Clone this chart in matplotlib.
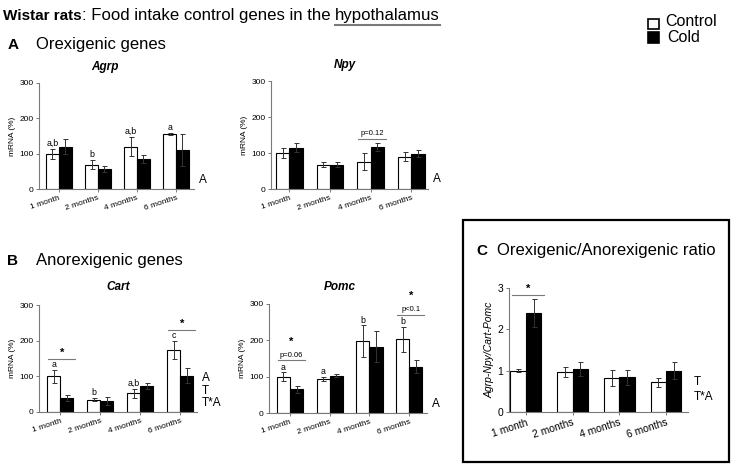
import matplotlib
matplotlib.use("Agg")
import matplotlib.pyplot as plt
from matplotlib.patches import Rectangle
from matplotlib.lines import Line2D
import numpy as np

plt.rcParams['font.family'] = ['Liberation Sans', 'DejaVu Sans']

# Data
ages = ["1 month", "2 months", "4 months", "6 months"]

agrp_ctrl = [100, 69, 120, 156]
agrp_ctrl_err = [14, 12, 27, 3]
agrp_cold = [120, 56, 85, 110]
agrp_cold_err = [21, 9, 11, 45]
agrp_letters = ["a,b", "b", "a,b", "a"]

npy_ctrl = [100, 68, 76, 90]
npy_ctrl_err = [15, 7, 23, 12]
npy_cold = [115, 68, 117, 98]
npy_cold_err = [13, 7, 11, 9]

cart_ctrl = [100, 35, 52, 173]
cart_ctrl_err = [18, 4, 13, 25]
cart_cold = [40, 32, 72, 102]
cart_cold_err = [9, 11, 8, 20]
cart_letters = ["a", "b", "a,b", "c"]

pomc_ctrl = [100, 94, 198, 203]
pomc_ctrl_err = [13, 6, 44, 34]
pomc_cold = [65, 103, 183, 127]
pomc_cold_err = [10, 5, 42, 18]
pomc_letters = ["a", "a", "b", "b"]

ratio_ctrl = [1.0, 0.97, 0.82, 0.72]
ratio_ctrl_err = [0.03, 0.13, 0.19, 0.11]
ratio_cold = [2.40, 1.04, 0.84, 1.0]
ratio_cold_err = [0.34, 0.16, 0.18, 0.21]

# (group index, bracket height, labels stacked above the bracket)
npy_brackets = [(2, 140, ["p=0.12"])]
cart_brackets = [(0, 148, ["*"]), (3, 230, ["*"])]
pomc_brackets = [(0, 145, ["p=0.06", "*"]), (3, 271, ["p<0.1", "*"])]
ratio_brackets = [(0, 2.82, ["*"])]

# anova effects printed right of each plot
agrp_effects = ["A"]
npy_effects = ["A"]
cart_effects = ["A", "T", "T*A"]
pomc_effects = ["A"]
ratio_effects = ["T", "T*A"]

W, H = 737, 466
GREY = "#7a7a7a"


def fx(px):
    return px / W


def fy(py):
    return 1 - py / H


def make_axes(left, right, top, bottom):
    return fig.add_axes([fx(left), fy(bottom), (right - left) / W, (bottom - top) / H])


def draw_panel(ax, ctrl, ctrl_err, cold, cold_err, xlim, ymax, yticks,
               letters=None, brackets=(), effects=(), eff_y=0.08,
               ticksize=6, ylabel="mRNA (%)", ylab_style="normal", letter_off=0.8):
    x = np.arange(len(ages))
    w = 0.33
    ekw = dict(ecolor="#333333", elinewidth=0.7, capsize=1.8, capthick=0.7)
    ax.bar(x - w / 2, ctrl, w, color="white", edgecolor="black", linewidth=0.8,
           yerr=ctrl_err, error_kw=ekw, zorder=2)
    ax.bar(x + w / 2, cold, w, color="black", edgecolor="black", linewidth=0.8,
           yerr=cold_err, error_kw=ekw, zorder=2)
    ax.set_xlim(*xlim)
    ax.set_ylim(0, ymax)
    ax.set_yticks(yticks)
    ax.set_xticks(x)
    ax.set_xticklabels(ages, rotation=18, ha="right", rotation_mode="anchor")
    for s in ["top", "right"]:
        ax.spines[s].set_visible(False)
    for s in ["left", "bottom"]:
        ax.spines[s].set_color(GREY)
        ax.spines[s].set_linewidth(0.8)
    ax.tick_params(axis="both", length=2.5, width=0.7, color=GREY,
                   labelsize=ticksize, pad=1.5)
    ax.set_ylabel(ylabel, fontsize=ticksize, style=ylab_style, labelpad=2)

    if letters:
        for i, lab in enumerate(letters):
            ax.annotate(lab, (x[i] - w / 2, ctrl[i] + ctrl_err[i]),
                        xytext=(0, letter_off), textcoords="offset points",
                        ha="center", va="bottom", fontsize=6.3)

    for g, h, labs in brackets:
        ax.plot([g - 0.3, g + 0.38], [h, h], color=GREY, lw=0.8, clip_on=False)
        for k, lab in enumerate(labs):
            if lab == "*":
                ax.annotate(lab, (g + 0.04, h), xytext=(0, 1 + 9 * k),
                            textcoords="offset points", ha="center", va="bottom",
                            fontsize=8, weight="bold")
            else:
                ax.annotate(lab, (g + 0.04, h), xytext=(0, 1),
                            textcoords="offset points", ha="center", va="bottom",
                            fontsize=5.5)

    for k, lab in enumerate(effects):
        ax.text(1.03, eff_y + 0.12 * (len(effects) - 1 - k), lab,
                transform=ax.transAxes, fontsize=8.5, ha="left", va="center")


fig = plt.figure(figsize=(W / 100, H / 100), dpi=100)

ax_agrp = make_axes(39, 194, 83, 189)
draw_panel(ax_agrp, agrp_ctrl, agrp_ctrl_err, agrp_cold, agrp_cold_err,
           (-0.51, 3.46), 300, [0, 100, 200, 300], letters=agrp_letters,
           effects=agrp_effects, eff_y=0.085)

ax_npy = make_axes(271, 428, 81, 189)
draw_panel(ax_npy, npy_ctrl, npy_ctrl_err, npy_cold, npy_cold_err,
           (-0.45, 3.41), 300, [0, 100, 200, 300], brackets=npy_brackets,
           effects=npy_effects, eff_y=0.09)

ax_cart = make_axes(39, 197, 305, 412)
draw_panel(ax_cart, cart_ctrl, cart_ctrl_err, cart_cold, cart_cold_err,
           (-0.53, 3.42), 300, [0, 100, 200, 300], letters=cart_letters,
           brackets=cart_brackets, effects=cart_effects, eff_y=0.08)

ax_pomc = make_axes(269, 427, 304, 413)
draw_panel(ax_pomc, pomc_ctrl, pomc_ctrl_err, pomc_cold, pomc_cold_err,
           (-0.53, 3.45), 300, [0, 100, 200, 300], letters=pomc_letters,
           brackets=pomc_brackets, effects=pomc_effects, eff_y=0.08, letter_off=0.3)

ax_ratio = make_axes(509, 688, 288, 412)
draw_panel(ax_ratio, ratio_ctrl, ratio_ctrl_err, ratio_cold, ratio_cold_err,
           (-0.36, 3.47), 3, [0, 1, 2, 3], brackets=ratio_brackets,
           effects=ratio_effects, eff_y=0.12, ticksize=7.5,
           ylabel="Agrp-Npy/Cart-Pomc", ylab_style="italic")

# gene names
for txt, px, py in [("Agrp", 105, 67), ("Npy", 345, 65), ("Cart", 118, 287), ("Pomc", 340, 287)]:
    fig.text(fx(px), fy(py), txt, fontsize=8.5, weight="bold", style="italic",
             ha="center", va="center")

# panel headings
fig.text(fx(8), fy(45), "A", fontsize=11, weight="bold", va="center")
fig.text(fx(36), fy(45), "Orexigenic genes", fontsize=12, va="center")
fig.text(fx(7), fy(261), "B", fontsize=11, weight="bold", va="center")
fig.text(fx(36), fy(261), "Anorexigenic genes", fontsize=12, va="center")
fig.text(fx(476), fy(251), "C", fontsize=11, weight="bold", va="center")
fig.text(fx(497), fy(251), "Orexigenic/Anorexigenic ratio", fontsize=12, va="center")

# box around panel C
fig.add_artist(Rectangle((fx(463), fy(462)), (729 - 463) / W, (462 - 220) / H,
                         transform=fig.transFigure, fill=False, edgecolor="black", lw=1.6))

# title pieces
r = fig.canvas.get_renderer()
t1 = fig.text(fx(3), fy(20), "Wistar rats", fontsize=11, weight="bold", va="baseline")
b1 = t1.get_window_extent(r)
t2 = fig.text(b1.x1 / W, fy(20), ": Food intake control genes in the ", fontsize=12.1, va="baseline")
b2 = t2.get_window_extent(r)
t3 = fig.text(b2.x1 / W, fy(20), "hypothalamus", fontsize=12.1, va="baseline")
b3 = t3.get_window_extent(r)
fig.add_artist(Line2D([b3.x0 / W, b3.x1 / W], [fy(24.5), fy(24.5)],
                      transform=fig.transFigure, color=GREY, lw=1.5))

# legend
fig.add_artist(Rectangle((fx(648), fy(29)), 11 / W, 10 / H, transform=fig.transFigure,
                         facecolor="white", edgecolor="black", lw=1.2))
fig.add_artist(Rectangle((fx(648), fy(43)), 11 / W, 11 / H, transform=fig.transFigure,
                         facecolor="black", edgecolor="black", lw=1.2))
fig.text(fx(665), fy(22), "Control", fontsize=11.5, va="center")
fig.text(fx(667), fy(38), "Cold", fontsize=11.5, va="center")

fig.savefig("out.png", dpi=100)
